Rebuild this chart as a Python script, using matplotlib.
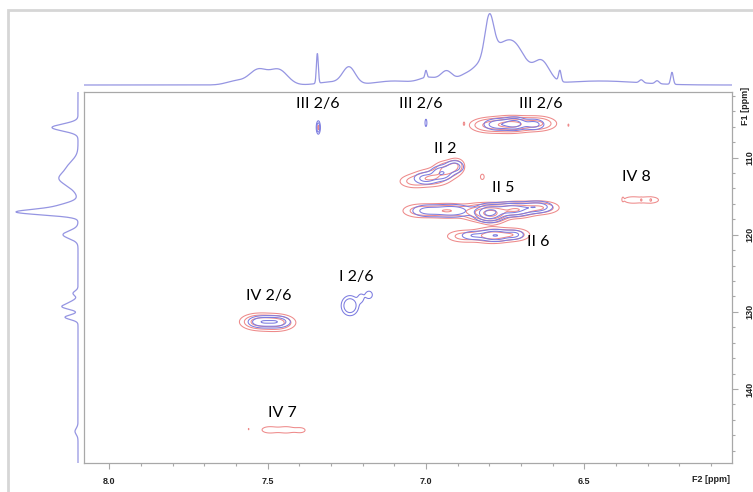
import numpy as np
import matplotlib
matplotlib.use("Agg")
import matplotlib.pyplot as plt
from matplotlib.patches import Rectangle
from matplotlib.ticker import MultipleLocator

# ---- 2D cross peaks: 1H shift, 13C shift, 1H width, 13C width, amplitude ----
red_h = [6.80, 6.73, 6.65, 6.88, 6.55,
         7.34,
         7.04, 6.98, 6.93, 6.905, 6.822,
         7.02, 6.93, 6.83, 6.79, 6.72, 6.64,
         6.88, 6.79, 6.72,
         6.35, 6.29, 6.32, 6.29, 6.378,
         7.53, 7.47,
         7.495, 7.44, 7.395, 7.56]
red_c = [105.8, 105.7, 105.6, 105.6, 105.8,
         106.1,
         113.1, 112.6, 111.5, 110.9, 112.5,
         116.9, 116.9, 117.1, 117.3, 116.8, 116.5,
         120.2, 120.1, 120.0,
         115.5, 115.5, 115.5, 115.5, 115.4,
         131.3, 131.4,
         145.3, 145.3, 145.35, 145.2]
red_wh = [0.035, 0.035, 0.035, 0.002, 0.002,
          0.0018,
          0.03, 0.035, 0.025, 0.015, 0.006,
          0.035, 0.045, 0.03, 0.025, 0.035, 0.035,
          0.035, 0.035, 0.03,
          0.025, 0.025, 0.002, 0.002, 0.002,
          0.032, 0.032,
          0.022, 0.022, 0.015, 0.002]
red_wc = [0.55, 0.55, 0.55, 0.2, 0.2,
          0.3,
          0.55, 0.65, 0.6, 0.5, 0.35,
          0.55, 0.55, 0.6, 0.6, 0.55, 0.5,
          0.5, 0.55, 0.5,
          0.4, 0.4, 0.15, 0.15, 0.2,
          0.6, 0.6,
          0.38, 0.38, 0.32, 0.2]
red_amp = [0.5, 0.9, 0.5, 0.12, 0.12,
           0.16,
           0.25, 0.45, 0.55, 0.3, 0.16,
           0.3, 0.45, 0.7, 1.2, 0.8, 0.45,
           0.3, 0.6, 0.35,
           0.16, 0.16, 0.12, 0.12, 0.11,
           0.55, 0.55,
           0.17, 0.17, 0.14, 0.11]

blue_h = [7.34, 7.00,
          6.77, 6.72, 6.66,
          7.00, 6.95, 6.91,
          7.00, 6.92, 6.80, 6.73, 6.65,
          6.85, 6.78, 6.72,
          7.52, 7.47,
          7.24, 7.205, 7.18]
blue_c = [106.1, 105.5,
          105.7, 105.6, 105.7,
          112.7, 112.0, 111.2,
          116.9, 116.9, 117.2, 116.7, 116.4,
          120.1, 120.1, 120.0,
          131.3, 131.3,
          129.2, 128.2, 127.8]
blue_wh = [0.0038, 0.0025,
           0.028, 0.02, 0.022,
           0.025, 0.02, 0.018,
           0.03, 0.04, 0.025, 0.035, 0.03,
           0.028, 0.028, 0.02,
           0.025, 0.025,
           0.016, 0.008, 0.009]
blue_wc = [0.5, 0.4,
           0.45, 0.45, 0.45,
           0.5, 0.55, 0.5,
           0.5, 0.5, 0.6, 0.5, 0.45,
           0.4, 0.45, 0.4,
           0.45, 0.45,
           0.75, 0.5, 0.4]
blue_amp = [0.45, 0.2,
            0.4, 0.6, 0.3,
            0.3, 0.45, 0.35,
            0.25, 0.4, 0.9, 0.65, 0.4,
            0.22, 0.45, 0.25,
            0.4, 0.4,
            0.45, 0.15, 0.2]

# ---- 1D projections: shift, intensity, width ----
top_ppm = [7.60, 7.53, 7.465, 7.343, 7.30, 7.243, 7.10, 7.00, 6.99, 6.935, 6.87,
           6.83, 6.80, 6.775, 6.72, 6.635, 6.577, 6.45, 6.32, 6.27, 6.223]
top_int = [4, 15, 15, 30, 3, 17, 4, 7, 7, 12, 11,
           12, 46, 25, 38, 22, 11, 4, 3, 3, 12]
top_hw = [0.03, 0.028, 0.028, 0.003, 0.04, 0.02, 0.06, 0.003, 0.03, 0.018, 0.03,
          0.02, 0.014, 0.03, 0.035, 0.025, 0.004, 0.12, 0.006, 0.006, 0.004]

side_ppm = [106.1, 111.3, 112.7, 113.6, 116.4, 117.1, 120.0, 127.6, 128.9,
            129.4, 130.7, 145.5]
side_int = [26, 10, 13, 6, 20, 54, 15, 5, 8, 12, 13, 3]
side_hw = [0.45, 0.9, 0.7, 0.8, 0.5, 0.35, 0.5, 0.3, 0.4, 0.3, 0.3, 0.4]

# ---- assignments ----
labels = ["III 2/6", "III 2/6", "III 2/6", "II 2", "II 5", "II 6", "IV 8",
          "IV 2/6", "I 2/6", "IV 7"]
label_h = [7.34, 7.015, 6.638, 6.94, 6.755, 6.644, 6.334, 7.498, 7.22, 7.454]
label_c = [103.0, 103.0, 103.0, 108.9, 114.0, 120.9, 112.5, 127.9, 125.5, 143.1]

RED = "#ee8a8a"
BLUE = "#7c7ce0"
PROJ = "#9595e2"
levels = [0.1, 0.22, 0.45, 0.8, 1.3]

h_axis = np.linspace(6.0, 8.1, 2100)
c_axis = np.linspace(100.0, 150.0, 500)
H, C = np.meshgrid(h_axis, c_axis)


def surface(hs, cs, whs, wcs, amps):
    z = np.zeros_like(H)
    for h, c, wh, wc, a in zip(hs, cs, whs, wcs, amps):
        z += a * np.exp(-0.5 * ((H - h) / wh) ** 2 - 0.5 * ((C - c) / wc) ** 2)
    return z


def gauss(x, centers, heights, widths):
    y = np.zeros_like(x)
    for x0, a, w in zip(centers, heights, widths):
        y += a * np.exp(-0.5 * ((x - x0) / w) ** 2)
    return y


W, Hpx = 753, 492
fig = plt.figure(figsize=(W / 100, Hpx / 100), dpi=100)

# outer frame
fig.patches.append(Rectangle((8 / W, -0.1), 1.2, (Hpx - 10) / Hpx + 0.1,
                             transform=fig.transFigure, fill=False,
                             edgecolor="#d6d6d6", lw=2))

x0, x1 = 84, 731.5
y0, y1 = 92, 463
ax = fig.add_axes([x0 / W, 1 - y1 / Hpx, (x1 - x0) / W, (y1 - y0) / Hpx])
ax.contour(H, C, surface(red_h, red_c, red_wh, red_wc, red_amp),
           levels=levels, colors=RED, linewidths=0.75)
ax.contour(H, C, surface(blue_h, blue_c, blue_wh, blue_wc, blue_amp),
           levels=levels, colors=BLUE, linewidths=0.75)

for t, h, c in zip(labels, label_h, label_c):
    ax.text(h, c, t, ha="center", va="center", fontsize=11.5,
            family="Lato", color="black")

for s in ax.spines.values():
    s.set_color("#a8a8a8")
    s.set_linewidth(0.9)
ax.yaxis.tick_right()
ax.xaxis.set_major_locator(MultipleLocator(0.5))
ax.xaxis.set_minor_locator(MultipleLocator(0.1))
ax.yaxis.set_major_locator(MultipleLocator(10))
ax.yaxis.set_minor_locator(MultipleLocator(2))
ax.tick_params(which="both", color="#a8a8a8", width=0.8, labelsize=6.5,
               labelcolor="#222222")
ax.tick_params(which="major", length=4, pad=6)
ax.tick_params(which="minor", length=2.5)
ax.set_xlim(8.08, 6.035)
ax.set_ylim(149.6, 101.5)
for lab in ax.get_xticklabels():
    lab.set_fontweight("bold")
    lab.set_family("Liberation Sans")
for lab in ax.get_yticklabels():
    lab.set_fontweight("bold")
    lab.set_family("Liberation Sans")
    lab.set_rotation(90)
    lab.set_va("center")

fig.text(711 / W, 1 - 480 / Hpx, "F2 [ppm]", ha="center", va="center",
         fontsize=6.5, fontweight="bold", family="Liberation Sans", color="#222222")
fig.text(745 / W, 1 - 106 / Hpx, "F1 [ppm]", ha="center", va="center",
         rotation=90, fontsize=6.5, fontweight="bold", family="Liberation Sans",
         color="#222222")

# top projection (1H)
axt = fig.add_axes([x0 / W, 1 - 90 / Hpx, (x1 - x0) / W, 80 / Hpx])
xs = np.linspace(8.08, 6.035, 2000)
axt.plot(xs, gauss(xs, top_ppm, top_int, top_hw), color=PROJ, lw=0.9)
axt.set_xlim(8.08, 6.035)
axt.set_ylim(-5, 75)
axt.axis("off")

# side projection (13C)
axs = fig.add_axes([15 / W, 1 - y1 / Hpx, (x0 - 15) / W, (y1 - y0) / Hpx])
cs = np.linspace(101.5, 149.6, 1500)
axs.plot(gauss(cs, side_ppm, side_int, side_hw), cs, color=PROJ, lw=0.9)
axs.set_xlim(63, -6)
axs.set_ylim(149.6, 101.5)
axs.axis("off")

fig.savefig("out.png", dpi=100)
